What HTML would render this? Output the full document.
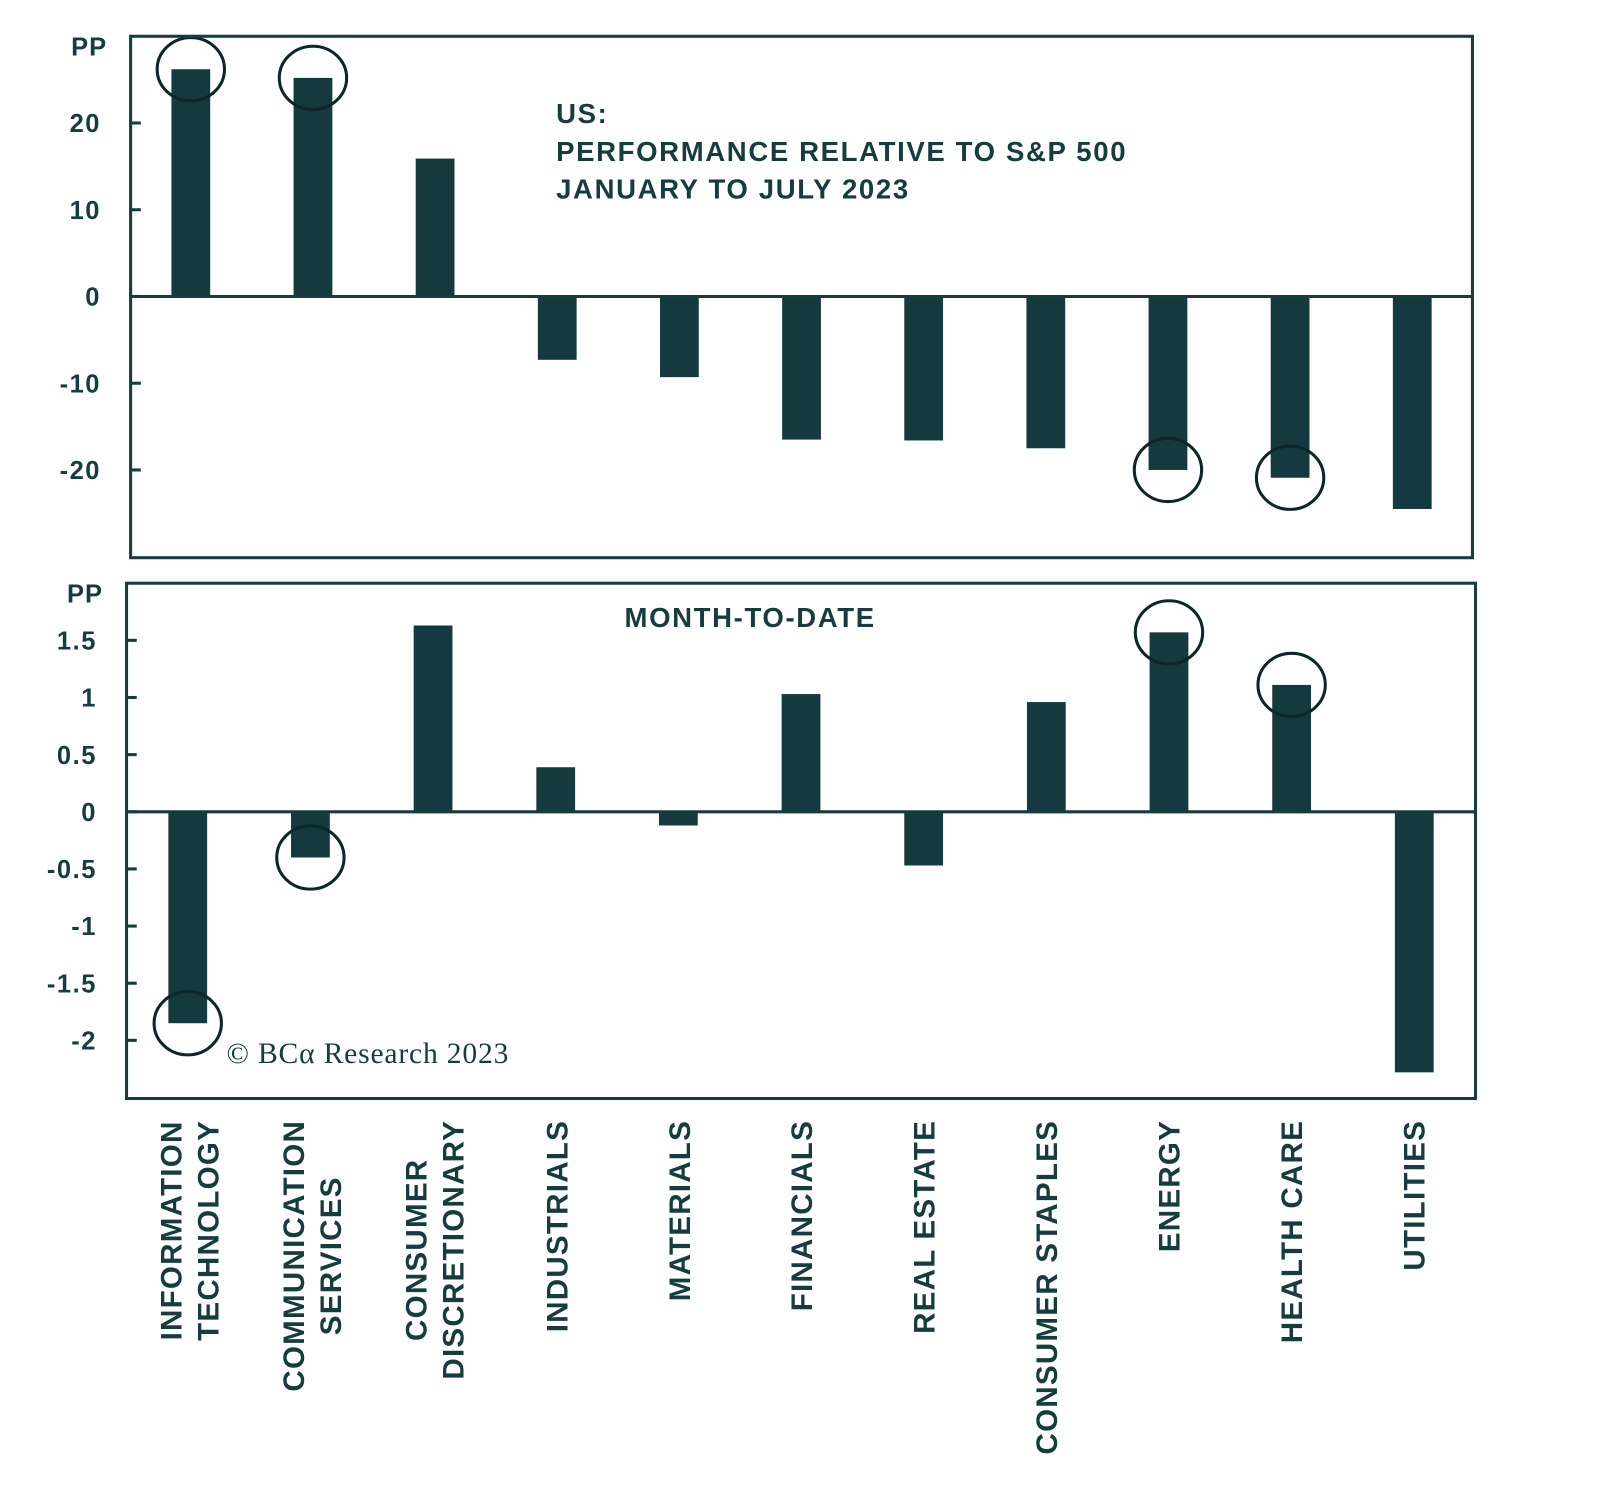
<!DOCTYPE html>
<html><head><meta charset="utf-8"><style>
html,body{margin:0;padding:0;background:#fff;}
svg{display:block;}
text{font-family:"Liberation Sans",sans-serif;fill:#163c40;}
</style></head>
<body>
<svg id="chart" width="1600" height="1495" viewBox="0 0 1568 1464" xmlns="http://www.w3.org/2000/svg"></svg>
<script>
const categories = [["INFORMATION","TECHNOLOGY"],["COMMUNICATION","SERVICES"],["CONSUMER","DISCRETIONARY"],["INDUSTRIALS"],["MATERIALS"],["FINANCIALS"],["REAL ESTATE"],["CONSUMER STAPLES"],["ENERGY"],["HEALTH CARE"],["UTILITIES"]];
const ytdValues = [26.2, 25.2, 15.9, -7.3, -9.3, -16.5, -16.6, -17.5, -20.0, -20.9, -24.5];
const mtdValues = [-1.85, -0.4, 1.63, 0.39, -0.12, 1.03, -0.47, 0.96, 1.57, 1.11, -2.28];
const ytdTicks = [20, 10, 0, -10, -20];
const ytdTickLabels = ["20","10","0","-10","-20"];
const mtdTicks = [1.5, 1, 0.5, 0, -0.5, -1, -1.5, -2];
const mtdTickLabels = ["1.5","1","0.5","0","-0.5","-1","-1.5","-2"];
const ytdCircled = [0, 1, 8, 9];
const mtdCircled = [0, 1, 8, 9];

const NS = "http://www.w3.org/2000/svg";
const svg = document.getElementById('chart');
const C = "#163c40";
function mk(tag, attrs, parent){const e=document.createElementNS(NS,tag);for(const k in attrs)e.setAttribute(k,attrs[k]);(parent||svg).appendChild(e);return e;}

function panel(cfg){
  const g = mk('g',{});
  
  
  const y = v => cfg.zeroY - v*cfg.pxPerUnit;
  const x = i => cfg.x0 + i*cfg.step;
  cfg.values.forEach((v,i)=>{
    const r = mk('rect',{x:x(i)-19,y:Math.min(y(v),y(0)),width:38,height:Math.abs(y(v)-y(0)),fill:"#14393e"},g);
    
    
  });
  cfg.circled.forEach(i=>{
    const e = mk('ellipse',{cx:x(i),cy:y(cfg.values[i]),rx:33,ry:31,fill:"none",stroke:"#0d2629","stroke-width":3},g);
    
    
  });
  const zl = mk('line',{x1:cfg.bx,x2:cfg.bx+cfg.bw,y1:y(0),y2:y(0),stroke:C,"stroke-width":3},g);
  
  
  const box = mk('rect',{x:cfg.bx,y:cfg.by,width:cfg.bw,height:cfg.bh,fill:"none",stroke:C,"stroke-width":3},g);
  
  
  cfg.ticks.forEach((t,k)=>{
    mk('line',{x1:cfg.bx,x2:cfg.bx+10,y1:y(t),y2:y(t),stroke:C,"stroke-width":3},g);
    const tx = mk('text',{x:cfg.bx-29,y:y(t)+9,"text-anchor":"end","font-size":25,"font-weight":"bold","letter-spacing":1.5},g);
    tx.textContent = cfg.tickLabels[k];
    
    
  });
  const pp = mk('text',{x:cfg.bx-23,y:cfg.by+19,"text-anchor":"end","font-size":25,"font-weight":"bold","letter-spacing":1},g);
  pp.textContent = "PP";
  
  
  return g;
}

panel({name:'ytd-panel',values:ytdValues,circled:ytdCircled,ticks:ytdTicks,tickLabels:ytdTickLabels,zeroY:290,pxPerUnit:8.5,x0:187,step:119.7,bx:128,by:35,bw:1315,bh:511});
panel({name:'mtd-panel',values:mtdValues,circled:mtdCircled,ticks:mtdTicks,tickLabels:mtdTickLabels,zeroY:795,pxPerUnit:112,x0:184,step:120.2,bx:124,by:571,bw:1322,bh:505});

const t1 = mk('text',{x:545,y:120,"font-size":27,"font-weight":"bold","letter-spacing":1.6});


["US:","PERFORMANCE RELATIVE TO S&P 500","JANUARY TO JULY 2023"].forEach((s,i)=>{
  const ts = mk('tspan',{x:545,y:120+i*37},t1); ts.textContent=s;
});
const t2 = mk('text',{x:612,y:614,"font-size":27,"font-weight":"bold","letter-spacing":1.6});
t2.textContent = "MONTH-TO-DATE";


const cp = mk('text',{x:222,y:1041,"font-size":29,"letter-spacing":0.8,style:"font-family:'Liberation Serif',serif"});
cp.textContent = "© BCα Research 2023";



categories.forEach((lines,i)=>{
  const cx = 185 + i*120;
  const g = mk('g',{});
  
  
  const texts = lines.map((s,j)=>{
    const t = mk('text',{"font-size":29,"font-weight":"bold","text-anchor":"middle","letter-spacing":1.2},g);
    t.textContent = s; return t;
  });
  const maxLen = Math.max(...texts.map(t=>t.getComputedTextLength()));
  const centerY = 1097 + maxLen/2;
  const n = lines.length;
  texts.forEach((t,j)=>{
    const lx = cx + (j-(n-1)/2)*36 + 11;
    t.setAttribute('transform', `translate(${lx},${centerY}) rotate(-90)`);
  });
});
</script>
</body></html>
